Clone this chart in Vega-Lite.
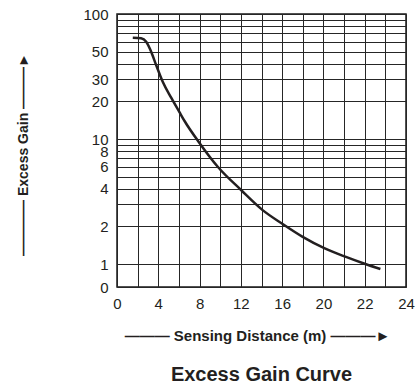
{
  "$schema": "https://vega.github.io/schema/vega-lite/v6.json",
  "width": 289,
  "height": 273,
  "autosize": {"type": "none"},
  "padding": {"left": 117, "top": 14, "right": 14, "bottom": 99},
  "background": "white",
  "config": {
    "font": "Liberation Sans",
    "view": {"stroke": "#1a1a1a", "strokeWidth": 1.5}
  },
  "title": {
    "text": "Excess Gain Curve",
    "orient": "bottom",
    "anchor": "middle",
    "fontSize": 20,
    "fontWeight": "bold",
    "color": "#231f20",
    "offset": 22
  },
  "data": {
    "values": [
      {"distance": 1.53, "gain": 64.6},
      {"distance": 2.34, "gain": 63.9},
      {"distance": 2.83, "gain": 60.0},
      {"distance": 3.31, "gain": 49.9},
      {"distance": 3.79, "gain": 39.1},
      {"distance": 4.43, "gain": 28.7},
      {"distance": 5.25, "gain": 21.4},
      {"distance": 6.05, "gain": 16.4},
      {"distance": 6.53, "gain": 14.0},
      {"distance": 7.99, "gain": 9.3},
      {"distance": 9.76, "gain": 6.0},
      {"distance": 12.02, "gain": 3.91},
      {"distance": 14.11, "gain": 2.7},
      {"distance": 16.05, "gain": 2.09},
      {"distance": 17.99, "gain": 1.65},
      {"distance": 20.04, "gain": 1.34},
      {"distance": 21.09, "gain": 1.14},
      {"distance": 22.03, "gain": 1.0},
      {"distance": 22.76, "gain": 0.912}
    ]
  },
  "mark": {"type": "line", "interpolate": "monotone", "stroke": "#231f20", "strokeWidth": 2.5},
  "encoding": {
    "x": {
      "field": "distance",
      "type": "quantitative",
      "scale": {"domain": [0, 20, 24], "range": [0, 206.43, 289], "nice": false, "zero": false},
      "axis": {
        "values": [0, 2, 4, 6, 8, 10, 12, 14, 16, 18, 20, 21, 22, 23, 24],
        "labelExpr": "indexof([0,4,8,12,16,20,22,24], datum.value) >= 0 ? format(datum.value, 'd') : ''",
        "grid": true,
        "gridColor": "#262626",
        "gridOpacity": 1,
        "gridWidth": 1,
        "domain": false,
        "ticks": false,
        "tickSize": 0,
        "labelPadding": 9,
        "labelFontSize": 15,
        "labelColor": "#231f20",
        "labelOverlap": false,
        "labelFlush": false,
        "title": "——— Sensing Distance (m) ———►",
        "titleFontSize": 15,
        "titleFontWeight": "bold",
        "titleColor": "#231f20",
        "titleBaseline": "middle",
        "titleX": 140,
        "titleY": 48
      }
    },
    "y": {
      "field": "gain",
      "type": "quantitative",
      "scale": {"type": "log", "domain": [0.655, 100], "nice": false},
      "axis": {
        "values": [0.655, 1, 2, 3, 4, 5, 6, 7, 8, 9, 10, 20, 30, 40, 50, 60, 70, 80, 90, 100],
        "labelExpr": "datum.value < 0.9 ? '0' : (indexof([1,2,4,6,8,10,20,30,50,100], datum.value) >= 0 ? format(datum.value, 'd') : '')",
        "grid": true,
        "gridColor": "#262626",
        "gridOpacity": 1,
        "gridWidth": 1,
        "domain": false,
        "ticks": false,
        "tickSize": 0,
        "labelPadding": 9,
        "labelFontSize": 15,
        "labelColor": "#231f20",
        "labelOverlap": false,
        "labelFlush": false,
        "labelBaseline": "middle",
        "title": "————  Excess Gain  ———►",
        "titleFontSize": 14,
        "titleFontWeight": "bold",
        "titleColor": "#231f20",
        "titleAngle": -90,
        "titleAlign": "center",
        "titleBaseline": "middle",
        "titleX": -94,
        "titleY": 140
      }
    }
  }
}
